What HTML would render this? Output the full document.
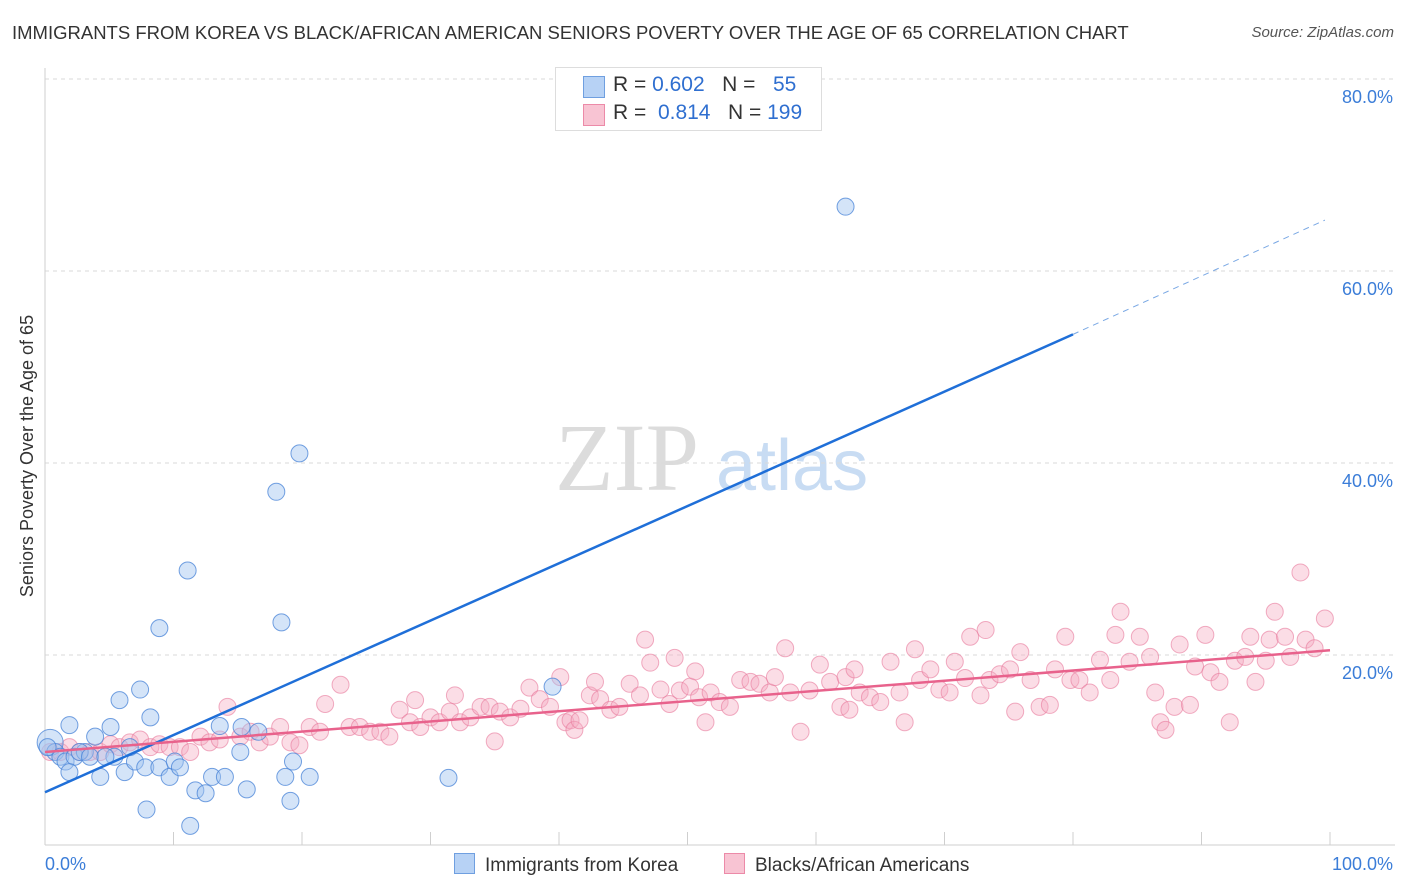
<!DOCTYPE html>
<html><head><meta charset="utf-8"><style>
body{margin:0;background:#fff;font-family:"Liberation Sans",sans-serif}
#wrap{position:relative;width:1406px;height:892px;overflow:hidden}
.t{position:absolute;white-space:nowrap}
</style></head><body>
<div id="wrap">
<div class="t" style="left:12px;top:22px;font-size:18.5px;color:#333">IMMIGRANTS FROM KOREA VS BLACK/AFRICAN AMERICAN SENIORS POVERTY OVER THE AGE OF 65 CORRELATION CHART</div>
<div class="t" style="right:12px;top:24px;font-size:15px;color:#555;font-style:italic">Source: ZipAtlas.com</div>
<svg id="svg" width="1406" height="892" style="position:absolute;left:0;top:0"></svg>
</div>
<script>
const yTicks=[20,40,60,80];
const xTicks=[0,10,20,30,40,50,60,70,80,90,100];
const blueX=[0.4,0.8,1.2,1.6,1.9,2.3,3.1,3.9,4.3,5.1,5.4,5.8,6.2,7.0,7.4,7.8,8.2,8.9,8.9,9.7,10.1,11.1,11.7,12.5,13.0,13.6,14.0,15.2,15.3,15.7,16.6,18.0,18.4,18.7,19.1,19.3,19.8,20.6,7.9,11.3,31.4,39.5,62.3,2.7,3.5,4.7,6.6,10.5,1.9,0.2];
const blueY=[10.9,9.9,9.4,8.9,12.7,9.4,9.9,11.5,7.3,12.5,9.4,15.3,7.8,8.9,16.4,8.3,13.5,22.8,8.3,7.3,8.9,28.8,5.9,5.6,7.3,12.6,7.3,9.9,12.5,6.0,12.0,37.0,23.4,7.3,4.8,8.9,41.0,7.3,3.9,2.2,7.2,16.7,66.7,9.9,9.4,9.4,10.4,8.3,7.8,10.4];
const pinkX=[0.4,1.2,1.9,2.7,3.5,4.3,5.1,5.8,6.6,7.4,8.2,8.9,9.7,10.5,11.3,12.1,12.8,13.6,14.2,15.2,16.0,16.7,17.5,18.3,19.1,19.8,20.6,21.4,21.8,23.0,23.7,24.5,25.3,26.1,26.8,27.6,28.4,28.8,29.2,30.0,30.7,31.5,31.9,32.3,33.1,33.9,34.6,35.0,35.4,36.2,37.0,37.7,38.5,39.3,40.1,40.5,40.9,41.2,41.6,42.4,42.8,43.2,44.0,44.7,45.5,46.3,46.7,47.1,47.9,48.6,49.0,49.4,50.2,50.6,50.9,51.4,51.8,52.5,53.3,54.1,54.9,55.6,56.4,56.8,57.6,58.0,58.8,59.5,60.3,61.1,61.9,62.3,62.6,63.0,63.4,64.2,65.0,65.8,66.5,66.9,67.7,68.1,68.9,69.6,70.4,70.8,71.6,72.0,72.8,73.2,73.5,74.3,75.1,75.5,75.9,76.7,77.4,78.2,78.6,79.4,79.8,80.5,81.3,82.1,82.9,83.3,83.7,84.4,85.2,86.0,86.4,86.8,87.2,87.9,88.3,89.1,89.5,90.3,90.7,91.4,92.2,92.6,93.4,93.8,94.2,95.0,95.3,95.7,96.5,96.9,97.7,98.1,98.8,99.6];
const pinkY=[9.9,9.9,10.4,9.9,9.9,9.9,10.7,10.4,10.9,11.2,10.4,10.7,10.4,10.4,9.9,11.5,10.9,11.2,14.6,11.5,12.0,10.9,11.5,12.5,10.9,10.6,12.5,12.0,14.9,16.9,12.5,12.5,12.0,12.0,11.5,14.3,13.0,15.3,12.5,13.5,13.0,14.1,15.8,13.0,13.5,14.6,14.6,11.0,14.1,13.5,14.4,16.6,15.4,14.6,17.7,13.0,13.2,12.2,13.2,15.8,17.2,15.4,14.3,14.6,17.0,15.8,21.6,19.2,16.4,14.9,19.7,16.3,16.7,18.3,15.6,13.0,16.1,15.1,14.6,17.4,17.2,17.0,16.1,17.7,20.7,16.1,12.0,16.3,19.0,17.2,14.6,17.7,14.3,18.5,16.1,15.6,15.1,19.3,16.1,13.0,20.6,17.4,18.5,16.4,16.1,19.3,17.6,21.9,15.8,22.6,17.4,18.0,18.5,14.1,20.3,17.4,14.6,14.8,18.5,21.9,17.4,17.4,16.1,19.5,17.4,22.1,24.5,19.3,21.9,19.8,16.1,13.0,12.2,14.6,21.1,14.8,18.8,22.1,18.2,17.2,13.0,19.4,19.8,21.9,17.2,19.4,21.6,24.5,21.9,19.8,28.6,21.6,20.7,23.8];
const blueLine=[[0,5.7],[80,53.4]];
const blueDash=[[80,53.4],[99.6,65.3]];
const pinkLine=[[0,9.9],[100,20.5]];

const X0=45,X1=1330,Y0=847,PPY=9.6;
const sx=v=>X0+(X1-X0)*v/100;
const sy=v=>Y0-v*PPY;
const svg=document.getElementById('svg');
const NS='http://www.w3.org/2000/svg';
function mk(tag,attrs,parent){const e=document.createElementNS(NS,tag);for(const k in attrs)e.setAttribute(k,attrs[k]);(parent||svg).appendChild(e);return e;}

let w=mk('text',{x:555,y:490,'font-family':'Liberation Serif,serif','font-size':96,fill:'#dcdcdc'});w.textContent='ZIP';


w=mk('text',{x:716,y:490,'font-family':'Liberation Sans,sans-serif','font-size':72,fill:'#c8dcf3'});w.textContent='atlas';



yTicks.forEach(t=>{
 const l=mk('line',{x1:45,x2:1395,y1:sy(t),y2:sy(t),stroke:'#dadada','stroke-dasharray':'4,4'});
 
 
 const tx=mk('text',{x:1393,y:sy(t)+24,'text-anchor':'end','font-size':18,fill:'#3b7dd8','font-family':'Liberation Sans,sans-serif'});
 tx.textContent=t.toFixed(1)+'%';
 
 
});
let ax=mk('line',{x1:45,x2:45,y1:68,y2:845,stroke:'#cfcfcf'});


ax=mk('line',{x1:45,x2:1395,y1:845,y2:845,stroke:'#cfcfcf'});


xTicks.forEach(t=>{
 const l=mk('line',{x1:sx(t),x2:sx(t),y1:832,y2:845,stroke:'#cfcfcf'});
 
 
});
let xl=mk('text',{x:45,y:870,'font-size':18,fill:'#3b7dd8','font-family':'Liberation Sans,sans-serif'});xl.textContent='0.0%';


xl=mk('text',{x:1393,y:870,'text-anchor':'end','font-size':18,fill:'#3b7dd8','font-family':'Liberation Sans,sans-serif'});xl.textContent='100.0%';


let yt=mk('text',{x:0,y:0,transform:'translate(33,456) rotate(-90)','text-anchor':'middle','font-size':18,fill:'#333','font-family':'Liberation Sans,sans-serif'});yt.textContent='Seniors Poverty Over the Age of 65';



pinkX.forEach((x,i)=>{
 const c=mk('circle',{cx:sx(x),cy:sy(pinkY[i]),r:8.5,fill:'rgba(245,170,192,0.4)',stroke:'rgba(232,120,155,0.6)','stroke-width':1});
 
 
});
blueX.forEach((x,i)=>{
 const c=mk('circle',{cx:sx(x),cy:sy(blueY[i]),r:i==0?13:8.5,fill:'rgba(160,196,240,0.45)',stroke:'rgba(70,130,215,0.75)','stroke-width':1});
 
 
});
let tl=mk('line',{x1:sx(blueLine[0][0]),y1:sy(blueLine[0][1]),x2:sx(blueLine[1][0]),y2:sy(blueLine[1][1]),stroke:'#1f6fd8','stroke-width':2.5});


tl=mk('line',{x1:sx(blueDash[0][0]),y1:sy(blueDash[0][1]),x2:sx(blueDash[1][0]),y2:sy(blueDash[1][1]),stroke:'#7aa8e4','stroke-width':1,'stroke-dasharray':'6,5'});


tl=mk('line',{x1:sx(pinkLine[0][0]),y1:sy(pinkLine[0][1]),x2:sx(pinkLine[1][0]),y2:sy(pinkLine[1][1]),stroke:'#e8628c','stroke-width':2.5});


</script>
<div class="t" style="left:555px;top:67px;width:265px;height:62px;border:1px solid #ddd;background:#fff;font-size:21px;color:#333">
 <div style="position:absolute;left:27px;top:8px;width:20px;height:20px;background:#b7d2f5;border:1px solid #6f9fe0"></div>
 <div style="position:absolute;left:57px;top:5px">R = <span style="color:#2f6fd0">0.602</span>&nbsp;&nbsp;&nbsp;N = &nbsp;&nbsp;<span style="color:#2f6fd0">55</span></div>
 <div style="position:absolute;left:27px;top:36px;width:20px;height:20px;background:#f8c4d3;border:1px solid #ec8aa8"></div>
 <div style="position:absolute;left:57px;top:33px">R = &nbsp;<span style="color:#2f6fd0">0.814</span>&nbsp;&nbsp;&nbsp;N = <span style="color:#2f6fd0">199</span></div>
</div>
<div class="t" style="left:454px;top:853px;font-size:19px;color:#333"><span style="display:inline-block;width:19px;height:19px;background:#b7d2f5;border:1px solid #6f9fe0;vertical-align:-3px;margin-right:10px"></span>Immigrants from Korea</div>
<div class="t" style="left:724px;top:853px;font-size:19px;color:#333"><span style="display:inline-block;width:19px;height:19px;background:#f8c4d3;border:1px solid #ec8aa8;vertical-align:-3px;margin-right:10px"></span>Blacks/African Americans</div>
</body></html>
